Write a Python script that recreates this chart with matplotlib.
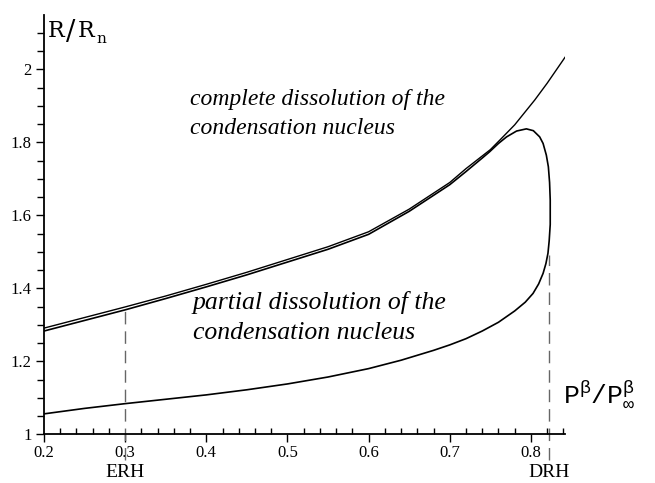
import matplotlib
matplotlib.use("Agg")
import matplotlib.pyplot as plt
from matplotlib.ticker import MultipleLocator

plt.rcParams["mathtext.fontset"] = "custom"
plt.rcParams["mathtext.rm"] = "Liberation Mono"
plt.rcParams["mathtext.it"] = "Liberation Mono"
plt.rcParams["mathtext.bf"] = "Liberation Mono"

# ---- data ----
complete_x = [0.2, 0.25, 0.3, 0.35, 0.4, 0.45, 0.5, 0.55, 0.6, 0.65, 0.7, 0.72, 0.75, 0.7616, 0.78, 0.8047, 0.82, 0.842]
complete_y = [1.291, 1.320, 1.349, 1.379, 1.411, 1.444, 1.479, 1.514, 1.555, 1.617, 1.690, 1.728, 1.780, 1.806, 1.848, 1.916, 1.962, 2.033]

partial_x = [0.2, 0.25, 0.3, 0.35, 0.4, 0.45, 0.5, 0.55, 0.6, 0.65, 0.7, 0.72, 0.74, 0.749, 0.76, 0.770, 0.7823, 0.7944,
             0.803, 0.8108, 0.8150, 0.819, 0.8215, 0.823, 0.8238, 0.8238, 0.8225, 0.821, 0.8185, 0.815, 0.8095, 0.8026,
             0.793, 0.78, 0.76, 0.74, 0.72, 0.70, 0.68, 0.64, 0.6, 0.55, 0.5, 0.45, 0.4, 0.35, 0.3, 0.25, 0.2]
partial_y = [1.283, 1.312, 1.341, 1.372, 1.404, 1.437, 1.472, 1.507, 1.548, 1.611, 1.684, 1.720, 1.757, 1.774, 1.797, 1.815, 1.831, 1.837,
             1.832, 1.815, 1.797, 1.765, 1.733, 1.690, 1.642, 1.575, 1.530, 1.496, 1.468, 1.441, 1.412, 1.386,
             1.362, 1.338, 1.307, 1.283, 1.262, 1.245, 1.230, 1.203, 1.180, 1.157, 1.138, 1.122, 1.108, 1.096, 1.084, 1.071, 1.056]

ERH = 0.3
DRH = 0.8226
erh_top = 1.345
drh_top = 1.49

xticks = [0.2, 0.3, 0.4, 0.5, 0.6, 0.7, 0.8]
xticklabels = ["0.2", "0.3", "0.4", "0.5", "0.6", "0.7", "0.8"]
yticks = [1.0, 1.2, 1.4, 1.6, 1.8, 2.0]
yticklabels = ["1", "1.2", "1.4", "1.6", "1.8", "2"]

# ---- figure ----
W, H = 655, 483
fig = plt.figure(figsize=(W / 100, H / 100), dpi=100)
x0, x1 = 44, 565
y0, y1 = 434.3, 15
ax = fig.add_axes([x0 / W, (H - y0) / H, (x1 - x0) / W, (y0 - y1) / H])
ax.set_xlim(0.2, 0.842)
ax.set_ylim(1.0, 2.149)

for s in ["top", "right"]:
    ax.spines[s].set_visible(False)
for s in ["left", "bottom"]:
    ax.spines[s].set_linewidth(1.3)

serif = "Liberation Serif"
mono = "Liberation Mono"

ax.set_xticks(xticks)
ax.set_xticklabels(xticklabels, fontfamily=serif, fontsize=12)
ax.set_yticks(yticks)
ax.set_yticklabels(yticklabels, fontfamily=serif, fontsize=12)
ax.xaxis.set_minor_locator(MultipleLocator(0.02))
ax.yaxis.set_minor_locator(MultipleLocator(0.05))
ax.tick_params(axis="x", which="major", direction="out", length=6, width=1, pad=2)
ax.tick_params(axis="x", which="minor", direction="in", length=4, width=1)
ax.tick_params(axis="y", which="major", direction="out", length=6, width=1, pad=3)
ax.tick_params(axis="y", which="minor", direction="out", length=5, width=1)

ax.plot(complete_x, complete_y, color="black", lw=1.0, solid_joinstyle="round")
ax.plot(partial_x, partial_y, color="black", lw=1.2, solid_joinstyle="round")

ax.plot([ERH, ERH], [0.93, erh_top], color="#666666", lw=1.0, dashes=(9, 5), clip_on=False)
ax.plot([DRH, DRH], [0.93, drh_top], color="#666666", lw=1.0, dashes=(9, 5), clip_on=False)

ax.text(ERH, 0.882, "ERH", fontfamily=serif, fontsize=14, ha="center", va="baseline", clip_on=False)
ax.text(DRH, 0.882, "DRH", fontfamily=serif, fontsize=14, ha="center", va="baseline", clip_on=False)

ax.text(0.38, 1.918, "complete dissolution of the", fontfamily=serif, style="italic", fontsize=17, ha="left", va="center")
ax.text(0.38, 1.838, "condensation nucleus", fontfamily=serif, style="italic", fontsize=17, ha="left", va="center")
ax.text(0.383, 1.362, "partial dissolution of the", fontfamily=serif, style="italic", fontsize=18.5, ha="left", va="center")
ax.text(0.383, 1.278, "condensation nucleus", fontfamily=serif, style="italic", fontsize=18.5, ha="left", va="center")

# y-axis label R/R_n
ax.text(0.2045, 2.088, "R", fontfamily="DejaVu Serif", fontsize=16, ha="left", va="baseline")
ax.text(0.2335, 2.08, "/", fontfamily="DejaVu Serif", fontsize=20, ha="center", va="baseline")
ax.text(0.2415, 2.088, "R", fontfamily="DejaVu Serif", fontsize=16, ha="left", va="baseline")
ax.text(0.265, 2.072, "n", fontfamily="DejaVu Serif", fontsize=11, ha="left", va="baseline")
fig.text(563 / W, 1 - 401.7 / H, r"P$^{\mathrm{β}}$/P$_{\mathrm{∞}}^{\mathrm{β}}$", fontfamily=mono, fontsize=19,
         ha="left", va="baseline")

fig.savefig("out.png", dpi=100)
